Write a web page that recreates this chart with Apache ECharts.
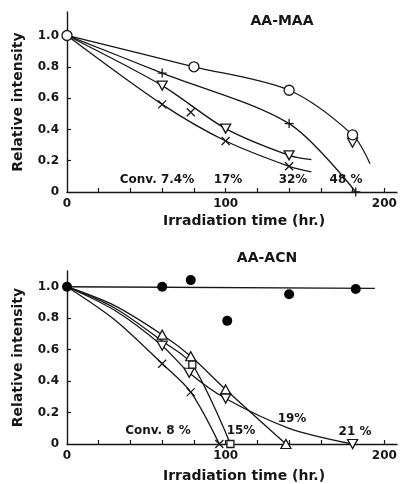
<!DOCTYPE html>
<html>
<head>
<meta charset="utf-8">
<script src="https://cdn.jsdelivr.net/npm/echarts@6/dist/echarts.min.js"></script>
<style>
html,body{margin:0;padding:0;background:#fff;}
#c{width:400px;height:484px;}
</style>
</head>
<body>
<div id="c"></div>
<script>
// ---------- data ----------
// Top panel: AA-MAA   [irradiation time (hr), relative intensity]
const maaCircle   = [[0,1.0],[80,0.80],[140,0.65],[180,0.365]];
const maaCircleTail = [[191,0.18]];
const maaPlus     = [[0,1.0],[60,0.76],[140,0.437]];
const maaPlusTail = [[182,0.0]];
const maaPlusEndMark = [[182,0.0]];
const maaTriDown  = [[0,1.0],[60,0.68],[100,0.405],[140,0.234]];
const maaTriDownTail = [[154,0.207]];
const maaTriDownExtra = [[180,0.315]];
const maaCross    = [[0,1.0],[60,0.56],[100,0.326],[140,0.164]];
const maaCrossTail = [[154,0.128]];
const maaCrossExtra = [[78,0.51]];
const maaConvLabels = ["Conv. 7.4%","17%","32%","48 %"];

// Bottom panel: AA-ACN
const acnDot      = [[0,1.0],[60,1.0],[78,1.042],[101,0.783],[140,0.952],[182,0.985]];
const acnDotFit   = [[0,1.0],[194,0.99]];
const acnTriUp    = [[0,1.0],[60,0.695],[78,0.558],[100,0.347],[138,0.0]];
const acnTriUpKnot = [[30,0.88]];
const acnTriDown  = [[0,1.0],[60,0.625],[77,0.453],[100,0.289],[180,0.0]];
const acnTriDownKnot = [[30,0.85],[140,0.10]];
const acnSquare   = [[0,1.0],[79,0.505],[103,0.0]];
const acnSquareKnot = [[30,0.865],[60,0.655]];
const acnCross    = [[0,1.0],[60,0.51],[78,0.33],[96,0.0]];
const acnCrossKnot = [[30,0.79]];
const acnConvLabels = ["Conv. 8 %","15%","19%","21 %"];

// axis tick labels
const xLabelValues = [0,100,200];
const yLabelValues = [0,0.2,0.4,0.6,0.8,1.0];
const xTickValues = [20,40,60,80,100,120,140,160,180,200];

// ---------- styling ----------
const INK = '#161616';
const FONT = 'DejaVu Sans';

const chart = echarts.init(document.getElementById('c'), null, {renderer:'canvas'});

function xAxisCfg(gridIndex, nameGap){
  return {
    gridIndex, type:'value', min:0, max:208,
    name:'Irradiation time (hr.)', nameLocation:'middle', nameGap,
    nameTextStyle:{fontFamily:FONT,fontWeight:'bold',fontSize:14,color:INK,padding:[0,0,0,24]},
    axisLine:{show:true,lineStyle:{color:INK,width:1.4}},
    axisTick:{show:true,inside:true,length:4,lineStyle:{color:INK,width:1.2},customValues:xTickValues},
    axisLabel:{show:true,margin:6,fontFamily:FONT,fontWeight:'bold',fontSize:12,color:INK,
      customValues:xLabelValues, formatter:v=>String(v)},
    splitLine:{show:false}
  };
}
function yAxisCfg(gridIndex, max){
  return {
    gridIndex, type:'value', min:0, max,
    name:'Relative intensity', nameLocation:'middle', nameGap:42,
    nameTextStyle:{fontFamily:FONT,fontWeight:'bold',fontSize:14,color:INK},
    axisLine:{show:true,lineStyle:{color:INK,width:1.4}},
    axisTick:{show:true,inside:true,length:4,lineStyle:{color:INK,width:1.2},customValues:yLabelValues.slice(1,5)},
    axisLabel:{show:true,margin:8,fontFamily:FONT,fontWeight:'bold',fontSize:12,color:INK,
      customValues:yLabelValues, formatter:v=> v===0 ? '0' : v.toFixed(1)},
    splitLine:{show:false}
  };
}

const plusPath = 'path://M5,0L5,10M0,5L10,5';
const crossPath = 'path://M0,0L10,10M10,0L0,10';

function curve(xi, data, smooth){
  return {type:'line', xAxisIndex:xi, yAxisIndex:xi, data, smooth: smooth===undefined?0.3:smooth,
    symbol:'none', silent:true, z:2,
    lineStyle:{color:INK,width:1.3}};
}
function marks(xi, data, kind){
  const s = {type:'scatter', xAxisIndex:xi, yAxisIndex:xi, data, silent:true, z:5,
    itemStyle:{color:'#fff',borderColor:INK,borderWidth:1.3,opacity:1}};
  if(kind==='circle'){ s.symbol='circle'; s.symbolSize=10; }
  else if(kind==='dot'){ s.symbol='circle'; s.symbolSize=10; s.itemStyle={color:'#000',opacity:1}; }
  else if(kind==='triUp'){ s.symbol='triangle'; s.symbolSize=[10,9]; }
  else if(kind==='triDown'){ s.symbol='triangle'; s.symbolSize=[10,9]; s.symbolRotate=180; }
  else if(kind==='square'){ s.symbol='rect'; s.symbolSize=7; }
  else if(kind==='plus'){ s.symbol=plusPath; s.symbolSize=9; s.itemStyle={color:'none',borderColor:INK,borderWidth:1.3,opacity:1}; }
  else if(kind==='cross'){ s.symbol=crossPath; s.symbolSize=8; s.itemStyle={color:'none',borderColor:INK,borderWidth:1.3,opacity:1}; }
  return s;
}

function sortX(a){ return a.slice().sort((p,q)=>p[0]-q[0]); }

const series = [
  // top
  curve(0, maaCircle.concat(maaCircleTail)),
  curve(0, maaPlus.concat(maaPlusTail)),
  curve(0, maaTriDown.concat(maaTriDownTail)),
  curve(0, maaCross.concat(maaCrossTail)),
  marks(0, maaPlus.slice(1).concat(maaPlusEndMark), 'plus'),
  marks(0, maaTriDown.slice(1).concat(maaTriDownExtra), 'triDown'),
  marks(0, maaCross.slice(1).concat(maaCrossExtra), 'cross'),
  marks(0, maaCircle, 'circle'),
  // bottom
  curve(1, acnDotFit, false),
  curve(1, sortX(acnTriUp.concat(acnTriUpKnot))),
  curve(1, sortX(acnTriDown.concat(acnTriDownKnot))),
  curve(1, sortX(acnSquare.concat(acnSquareKnot))),
  curve(1, sortX(acnCross.concat(acnCrossKnot))),
  marks(1, acnTriUp.slice(1), 'triUp'),
  marks(1, acnTriDown.slice(1), 'triDown'),
  marks(1, acnSquare.slice(1), 'square'),
  marks(1, acnCross.slice(1), 'cross'),
  marks(1, acnDot, 'dot')
];

function txt(x,y,text,size){
  return {type:'text', x, y, style:{text, fill:INK, font:'bold '+(size||12)+'px "'+FONT+'"',
    textAlign:'center', textVerticalAlign:'middle'}};
}

const option = {
  backgroundColor:'#fff',
  animation:false,
  grid:[
    {left:67, top:12, width:330, height:180},
    {left:67, top:271, width:330, height:174}
  ],
  xAxis:[xAxisCfg(0,22), xAxisCfg(1,25)],
  yAxis:[yAxisCfg(0,1.15), yAxisCfg(1,1.1)],
  series,
  graphic:[
    txt(282,21,'AA-MAA',14),
    txt(157,180,maaConvLabels[0],12),
    txt(228,180,maaConvLabels[1],12),
    txt(293,180,maaConvLabels[2],12),
    txt(346,180,maaConvLabels[3],12),
    txt(267,258,'AA-ACN',14),
    txt(158,431,acnConvLabels[0],12),
    txt(241,431,acnConvLabels[1],12),
    txt(292,419,acnConvLabels[2],12),
    txt(355,432,acnConvLabels[3],12)
  ]
};
chart.setOption(option);
</script>
</body>
</html>
